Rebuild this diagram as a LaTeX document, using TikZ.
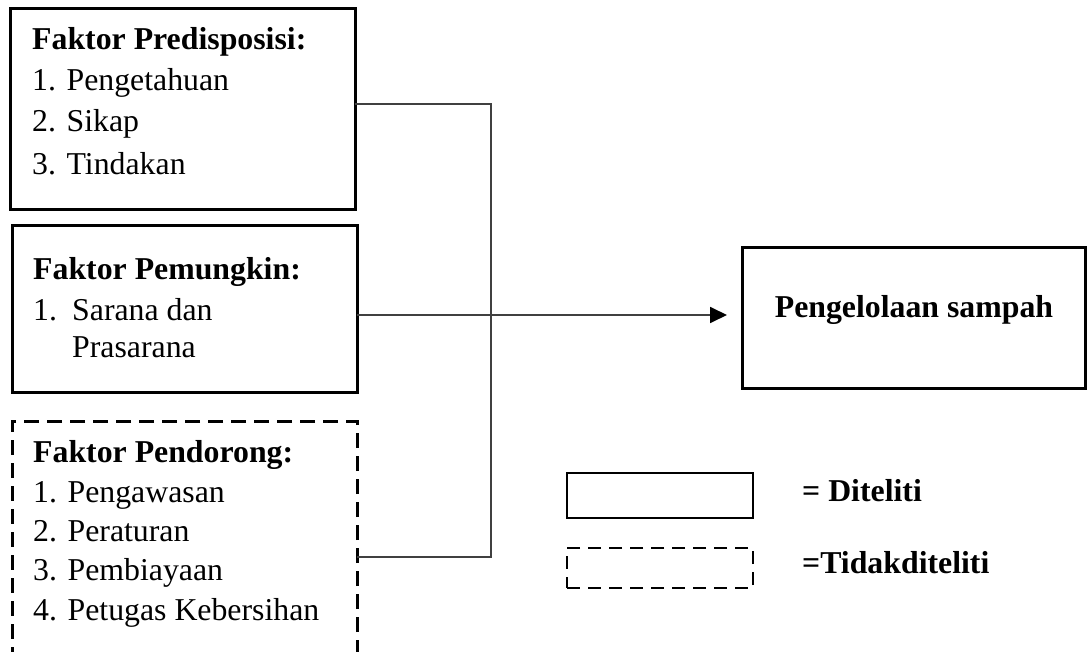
\documentclass[tikz,border=0pt]{standalone}
\usepackage{fontspec}
\setmainfont{Liberation Serif}
\usetikzlibrary{arrows.meta}
\begin{document}
\begin{tikzpicture}[x=1pt,y=-1pt,
  box/.style={draw=black,line width=3pt,anchor=north west,inner sep=0pt,outer sep=0pt},
  dbox/.style={box,dash pattern=on 15pt off 8pt},
  ldbox/.style={box,line width=2.8pt,dash pattern=on 13pt off 8pt},
  txt/.style={anchor=base west,inner sep=0pt,font=\fontsize{31.8}{38}\selectfont},
  btxt/.style={txt,font=\fontsize{31.8}{38}\selectfont\bfseries},
  conn/.style={draw=black!75,line width=1.8pt}]
\path[use as bounding box] (0,0) rectangle (1087,652);
\clip (0,0) rectangle (1087,652);
% boxes
\node[box,minimum width=345pt,minimum height=201pt] (b1) at (10,9) {};
\node[box,minimum width=345pt,minimum height=166pt] (b2) at (12,226) {};
\node[dbox,minimum width=345pt,minimum height=280pt] (b3) at (12,421) {};
\node[box,minimum width=343pt,minimum height=140pt] (out) at (742,248) {};
\node[box,line width=2.8pt,minimum width=186pt,minimum height=45pt] (l1) at (567,473) {};
\node[ldbox,minimum width=186pt,minimum height=40pt] (l2) at (567,548) {};
% texts box 1
\node[btxt] (t11) at (32,50) {Faktor Predisposisi:};
\node[txt] (t12) at (32,91) {1. Pengetahuan};
\node[txt] (t13) at (32,132) {2. Sikap};
\node[txt] (t14) at (32,175) {3. Tindakan};
% texts box 2
\node[btxt] (t21) at (33,280) {Faktor Pemungkin:};
\node[txt] (t22) at (33,321) {1.};
\node[txt] (t23) at (72,321) {Sarana dan};
\node[txt] (t24) at (72,357.5) {Prasarana};
% texts box 3
\node[btxt] (t31) at (33,462) {Faktor Pendorong:};
\node[txt] (t32) at (33,502) {1. Pengawasan};
\node[txt] (t33) at (33,541) {2. Peraturan};
\node[txt] (t34) at (33,580) {3. Pembiayaan};
\node[txt] (t35) at (33,620) {4. Petugas Kebersihan};
% outcome
\node[btxt,anchor=base] (t41) at (914,318) {Pengelolaan sampah};
% legend
\node[btxt] (t51) at (802,501) {= Diteliti};
\node[btxt] (t52) at (802,573) {=Tidakditeliti};
% connectors
\coordinate (j1) at (491,104);
\coordinate (j3) at (491,557);
\coordinate (m) at (491,315);
\draw[conn] (b1.east |- j1) -- (j1) -- (j3) -- (b3.east |- j3);
\draw[conn,shorten >=15pt,-{Triangle[length=17pt,width=16pt,color=black]}] (b2.east |- m) -- (out.west |- m);
\end{tikzpicture}
\end{document}
